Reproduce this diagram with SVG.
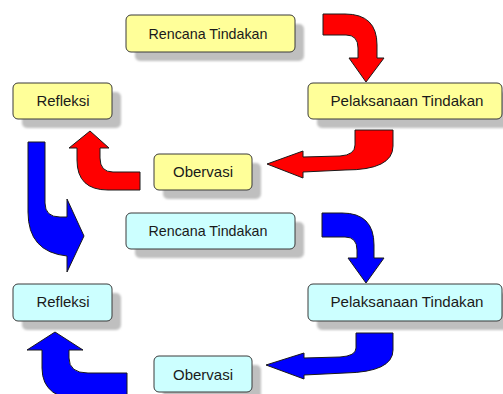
<svg xmlns="http://www.w3.org/2000/svg" width="503" height="394" viewBox="0 0 503 394">
<defs>
<filter id="soft" x="-10%" y="-20%" width="120%" height="140%"><feGaussianBlur stdDeviation="1"/></filter>
<style>
.shadow{fill:#BFBFBF;filter:url(#soft)}
.y{fill:#FFFF99;stroke:#3A3A3A;stroke-width:1}
.c{fill:#CCFFFF;stroke:#3A3A3A;stroke-width:1}
.t{font-family:"Liberation Sans",Arial,sans-serif;font-size:15px;fill:#1A1A1A;text-anchor:middle}
.red{fill:#FF0000;stroke:#1A1A1A;stroke-width:1;stroke-linejoin:miter}
.blue{fill:#0000FF;stroke:#1A1A1A;stroke-width:1;stroke-linejoin:miter}
</style>
</defs>
<rect width="503" height="394" fill="#FFFFFF"/>

<g id="connectors">
<path class="red" d="M323,14 H345 Q377,14 377,45 V58 H384 L366,82 L349,58 H358 V48 Q358,35 346,35 H323 Z"/>
<path class="red" d="M355,130 H393 V146 Q393,170 345,170 L303,172 V178 L267,164 L303,151 V157 L340,156 Q355,155 355,145 Z"/>
<path class="red" d="M140,172 H113 Q100,172 100,158 V148 H109 L90,131 L69,148 H77 V160 Q77,190 108,190 H140 Z"/>
<path class="blue" d="M28,142 H45 V203 Q45,217 60,217 H67 V199 L84,236 L67,272 V256 Q28,252 28,212 Z"/>
<path class="blue" d="M322,213 H342 Q374,213 374,245 V258 H384 L366,283 L348,258 H357 V250 Q357,237 345,237 H322 Z"/>
<path class="blue" d="M356,333 H393 V350 Q393,372 345,373 L304,375 V379 L266,365 L304,353 V358 L340,357 Q356,356 356,348 Z"/>
<path class="blue" d="M127,373 H88 Q69,373 69,358 V350 H83 L55,332 L27,350 H42 V368 Q42,400 85,400 H127 Z"/>
</g>

<g id="rencana1">
<rect class="shadow" x="135" y="24" width="169" height="37" rx="5"/>
<rect class="y" x="126" y="15" width="169" height="37" rx="5"/>
<text class="t" x="208" y="39" textLength="119" lengthAdjust="spacingAndGlyphs">Rencana Tindakan</text>
</g>
<g id="refleksi1">
<rect class="shadow" x="22" y="92" width="99" height="36" rx="5"/>
<rect class="y" x="13" y="83" width="99" height="36" rx="5"/>
<text class="t" x="63" y="106" textLength="53" lengthAdjust="spacingAndGlyphs">Refleksi</text>
</g>
<g id="pelaksanaan1">
<rect class="shadow" x="317" y="92" width="194" height="36" rx="5"/>
<rect class="y" x="308" y="83" width="194" height="36" rx="5"/>
<text class="t" x="407" y="106" textLength="153" lengthAdjust="spacingAndGlyphs">Pelaksanaan Tindakan</text>
</g>
<g id="obervasi1">
<rect class="shadow" x="163" y="163" width="98" height="36" rx="5"/>
<rect class="y" x="154" y="154" width="98" height="36" rx="5"/>
<text class="t" x="203" y="177" textLength="60" lengthAdjust="spacingAndGlyphs">Obervasi</text>
</g>

<g id="rencana2">
<rect class="shadow" x="135" y="222" width="169" height="36" rx="5"/>
<rect class="c" x="126" y="213" width="169" height="36" rx="5"/>
<text class="t" x="208" y="236" textLength="119" lengthAdjust="spacingAndGlyphs">Rencana Tindakan</text>
</g>
<g id="refleksi2">
<rect class="shadow" x="22" y="293" width="99" height="37" rx="5"/>
<rect class="c" x="13" y="284" width="99" height="37" rx="5"/>
<text class="t" x="63" y="307" textLength="53" lengthAdjust="spacingAndGlyphs">Refleksi</text>
</g>
<g id="pelaksanaan2">
<rect class="shadow" x="317" y="293" width="194" height="37" rx="5"/>
<rect class="c" x="308" y="284" width="194" height="37" rx="5"/>
<text class="t" x="407" y="307" textLength="153" lengthAdjust="spacingAndGlyphs">Pelaksanaan Tindakan</text>
</g>
<g id="obervasi2">
<rect class="shadow" x="163" y="365" width="98" height="36" rx="5"/>
<rect class="c" x="154" y="356" width="98" height="36" rx="5"/>
<text class="t" x="203" y="380" textLength="60" lengthAdjust="spacingAndGlyphs">Obervasi</text>
</g>
</svg>
